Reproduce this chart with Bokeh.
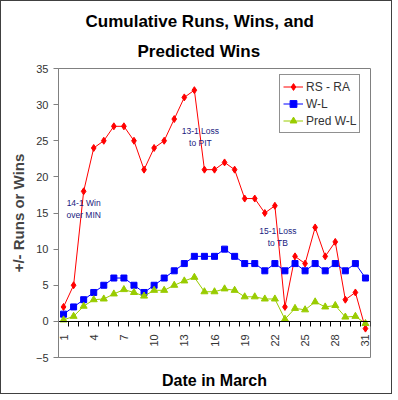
import math
from bokeh.plotting import figure
from bokeh.models import (ColumnDataSource, FixedTicker, Range1d, Legend, LegendItem, Label,
                          Title, LinearAxis)
from bokeh.embed import file_html
from bokeh.resources import INLINE

# ---- data ----
days = list(range(1, 32))
rs_ra = [2, 5, 18, 24, 25, 27, 27, 25, 21, 24, 25, 28, 31, 32, 21, 21, 22, 21, 17, 17,
         15, 16, 2, 9, 8, 13, 9, 11, 3, 4, -1]
w_l = [1, 2, 3, 4, 5, 6, 6, 5, 4, 5, 6, 7, 8, 9, 9, 9, 10, 9, 8, 8,
       7, 8, 7, 8, 7, 8, 7, 8, 7, 8, 6]
pred_w_l = [0.2, 0.7, 2.1, 3.0, 3.1, 3.8, 4.4, 4.0, 3.5, 4.3, 4.3, 5.0, 5.6, 6.1, 4.1, 4.1,
            4.5, 4.3, 3.4, 3.4, 3.1, 3.1, 0.3, 1.8, 1.6, 2.7, 2.0, 2.2, 0.6, 0.7, -0.3]
series_names = ["RS - RA", "W-L", "Pred W-L"]
x_tick_labels = days[::3]
y_ticks = [-5, 0, 5, 10, 15, 20, 25, 30, 35]

title_lines = ["Cumulative Runs, Wins, and", "Predicted Wins"]
x_title = "Date in March"
y_title = "+/- Runs or Wins"

note_texts = ["14-1 Win\nover MIN", "13-1 Loss\nto PIT", "15-1 Loss\nto TB"]
note_day = [3.0, 14.6, 22.3]
note_val = [15.6, 25.5, 11.7]

FONT = "Liberation Sans"

src = ColumnDataSource(dict(day=days, rs_ra=rs_ra, w_l=w_l, pred=pred_w_l))

p = figure(width=392, height=394, output_backend="svg", toolbar_location=None,
           x_range=Range1d(0.5, 31.5), y_range=Range1d(-5, 35),
           min_border_left=57, min_border_right=23, min_border_top=67, min_border_bottom=38)
p.styles = {"border": "1px solid #404040"}
p.title.visible = False

# two-line chart title (second line added first: it sits nearest the plot)
p.add_layout(Title(text=title_lines[1], align="left", offset=79, standoff=16,
                   text_font=FONT, text_font_size="17px", text_font_style="bold",
                   text_color="black"), "above")
p.add_layout(Title(text=title_lines[0], align="left", offset=27, standoff=1,
                   text_font=FONT, text_font_size="17px", text_font_style="bold",
                   text_color="black"), "above")

p.grid.grid_line_color = None
p.outline_line_color = "#808080"
p.background_fill_color = "white"

# x axis at y = 0
xa = p.xaxis[0]
xa.fixed_location = 0
xa.ticker = FixedTicker(ticks=x_tick_labels, minor_ticks=[d - 0.5 for d in days] + [days[-1] + 0.5])
xa.major_tick_line_color = None
xa.minor_tick_out = 5
xa.minor_tick_in = 0
xa.minor_tick_line_color = "black"
xa.axis_line_color = "black"
xa.major_label_orientation = math.pi / 2
xa.major_label_text_font = FONT
xa.major_label_text_font_size = "11px"
xa.major_label_text_color = "#333333"
xa.major_label_standoff = 7

# bare axis below the plot that only carries the x-axis title
xt = LinearAxis(ticker=FixedTicker(ticks=[]), axis_label=x_title,
                axis_line_color=None, major_tick_line_color=None, minor_tick_line_color=None,
                major_tick_out=0, major_tick_in=0, minor_tick_out=0, minor_tick_in=0,
                axis_label_standoff=14, axis_label_text_font=FONT,
                axis_label_text_font_size="16px", axis_label_text_font_style="bold",
                axis_label_text_color="black")
p.add_layout(xt, "below")

ya = p.yaxis[0]
ya.ticker = FixedTicker(ticks=y_ticks)
ya.axis_line_color = "#808080"
ya.major_tick_line_color = "#808080"
ya.major_tick_out = 5
ya.major_tick_in = 0
ya.minor_tick_line_color = None
ya.major_label_text_font = FONT
ya.major_label_text_font_size = "11px"
ya.major_label_text_color = "#333333"
ya.major_label_standoff = 5
ya.axis_label = y_title
ya.axis_label_text_font = FONT
ya.axis_label_text_font_size = "15px"
ya.axis_label_text_font_style = "bold"
ya.axis_label_standoff = 6

l1 = p.line("day", "rs_ra", source=src, line_color="#FF0000", line_width=1)
m1 = p.scatter("day", "rs_ra", source=src, marker="diamond", size=7,
               fill_color="#FF0000", line_color="#FF0000")
l2 = p.line("day", "w_l", source=src, line_color="#0000FF", line_width=1)
m2 = p.scatter("day", "w_l", source=src, marker="square", size=6,
               fill_color="#0000FF", line_color="#0000FF")
l3 = p.line("day", "pred", source=src, line_color="#99CC00", line_width=1)
m3 = p.scatter("day", "pred", source=src, marker="triangle", size=7,
               fill_color="#99CC00", line_color="#99CC00")

for t, x, y in zip(note_texts, note_day, note_val):
    p.add_layout(Label(x=x, y=y, text=t, text_align="center", text_baseline="middle",
                       text_font=FONT, text_font_size="8.5px", text_color="#1a1a80",
                       text_line_height=1.2))

legend = Legend(items=[LegendItem(label=series_names[0], renderers=[l1, m1]),
                       LegendItem(label=series_names[1], renderers=[l2, m2]),
                       LegendItem(label=series_names[2], renderers=[l3, m3])],
                location=(221, 224))
legend.label_text_font = FONT
legend.label_text_font_size = "12px"
legend.label_text_color = "#333333"
legend.glyph_width = 20
legend.glyph_height = 17
legend.label_height = 17
legend.label_standoff = 3
legend.padding = 3
legend.spacing = 0
legend.margin = 0
legend.border_line_color = "#222222"
legend.border_line_width = 1
legend.background_fill_color = "white"
p.add_layout(legend, "center")

open("out.html", "w").write(file_html(p, INLINE))
